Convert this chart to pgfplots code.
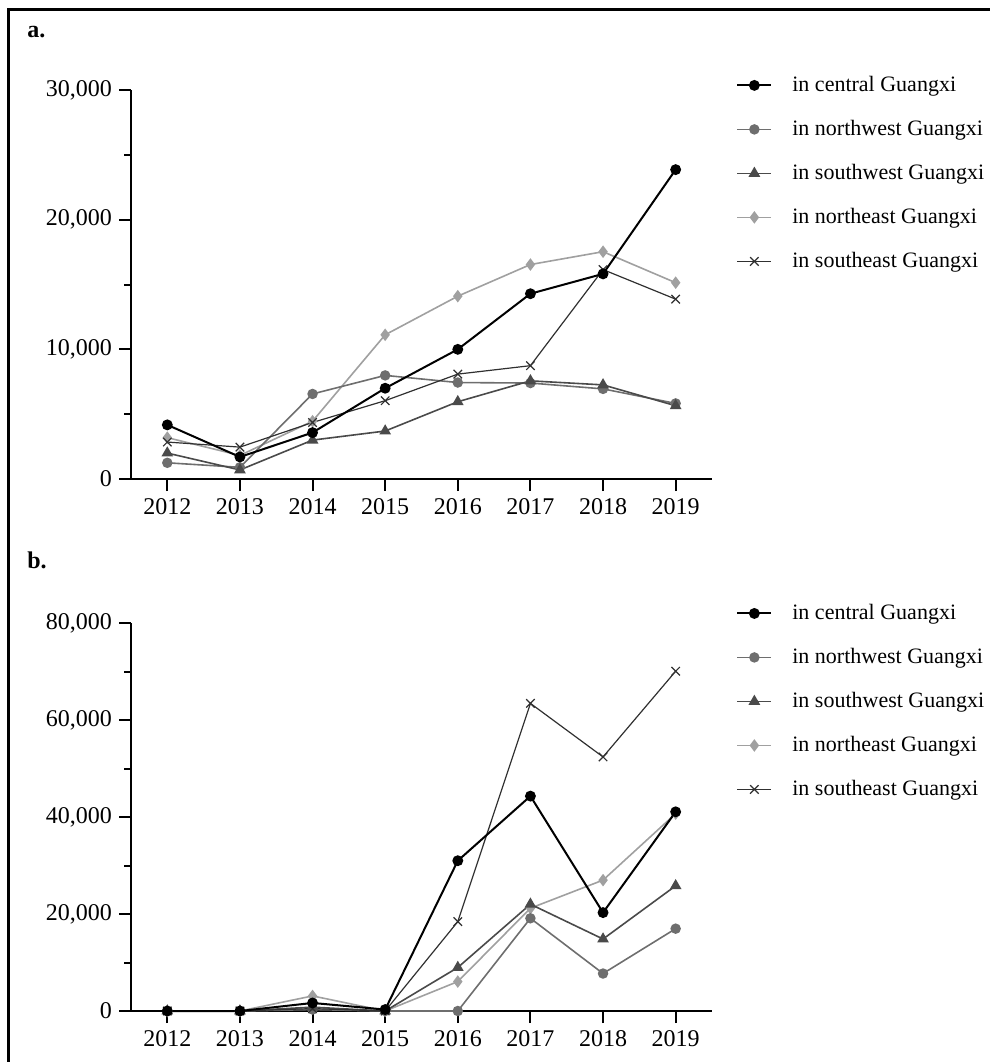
\documentclass[border=0pt]{standalone}
\usepackage{fontspec}
\setmainfont{Liberation Serif}
\usepackage{pgfplots}
\pgfplotsset{compat=1.18}
\definecolor{cNW}{HTML}{6E6E6E}
\definecolor{cSW}{HTML}{4A4A4A}
\definecolor{cNE}{HTML}{A0A0A0}
\definecolor{cSE}{HTML}{303030}
\pgfplotsset{
 gx/.style={
  scale only axis, width=290.5pt,
  xmin=2011.5, xmax=2019.5, ymin=0,
  axis x line*=bottom, axis y line*=left,
  xtick={2012,2013,2014,2015,2016,2017,2018,2019},
  x tick label style={/pgf/number format/1000 sep={}},
  y tick label style={/pgf/number format/.cd, 1000 sep={,}, fixed},
  scaled y ticks=false,
  /pgf/number format/assume math mode=true,
  tick align=outside, major tick length=6pt, minor tick length=3.5pt,
  every tick/.style={line width=1pt, black},
  minor y tick num=1,
  axis line style={line width=1pt},
  tick label style={font=\fontsize{12}{14}\selectfont},
  clip=false,
  legend style={draw=none, fill=none, anchor=north west, inner sep=0pt,
    row sep=12pt, font=\fontsize{11}{13}\selectfont,
    nodes={inner sep=0pt, text height=8pt, text depth=2pt},
    /tikz/every odd column/.append style={column sep=10pt}},
  legend cell align=left,
  legend image code/.code={\draw[mark repeat=2,mark phase=2,##1] plot coordinates {(0pt,0pt) (8.5pt,0pt) (17pt,0pt)};},
 },
 sC/.style={black, line width=1pt, mark=*, mark size=2.2pt, mark options={solid, fill=black}},
 sNW/.style={cNW, line width=0.8pt, mark=*, mark size=2.2pt, mark options={solid, fill=cNW}},
 sSW/.style={cSW, line width=0.8pt, mark=triangle*, mark size=2.6pt, mark options={solid, fill=cSW}},
 sNE/.style={cNE, line width=0.8pt, mark=diamond*, mark size=2.5pt, mark options={solid, fill=cNE}},
 sSE/.style={cSE, line width=0.6pt, mark=x, mark size=3pt, mark options={solid}},
}
\begin{document}
\begin{tikzpicture}
\useasboundingbox (0pt,0pt) rectangle (495pt,-531pt);
\draw[line width=1.4pt] (4.2pt,-535pt) -- (4.2pt,-4.65pt) -- (500pt,-4.65pt);
\node[font=\bfseries\fontsize{12}{14}\selectfont, anchor=base west, inner sep=0pt] at (13.5pt,-18.5pt) {a.};
\node[font=\bfseries\fontsize{12}{14}\selectfont, anchor=base west, inner sep=0pt] at (13.5pt,-284pt) {b.};
\begin{axis}[gx, at={(65.5pt,-239.5pt)}, anchor=south west, height=194.5pt,
  ymax=30000, ytick={0,10000,20000,30000},
  legend style={at={(1.0413,1.0386)}}]
\addlegendimage{sC}\addlegendentry{in central Guangxi}
\addlegendimage{sNW}\addlegendentry{in northwest Guangxi}
\addlegendimage{sSW}\addlegendentry{in southwest Guangxi}
\addlegendimage{sNE}\addlegendentry{in northeast Guangxi}
\addlegendimage{sSE}\addlegendentry{in southeast Guangxi}
\addplot[sNE, forget plot] coordinates {(2012,3190) (2013,1820) (2014,4460) (2015,11120) (2016,14100) (2017,16540) (2018,17530) (2019,15140)};
\addplot[sNW, forget plot] coordinates {(2012,1250) (2013,900) (2014,6560) (2015,7990) (2016,7440) (2017,7400) (2018,6950) (2019,5830)};
\addplot[sSW, forget plot] coordinates {(2012,2000) (2013,700) (2014,3000) (2015,3700) (2016,5960) (2017,7570) (2018,7260) (2019,5650)};
\addplot[sSE, forget plot] coordinates {(2012,2850) (2013,2460) (2014,4360) (2015,6040) (2016,8090) (2017,8740) (2018,16150) (2019,13870)};
\addplot[sC, forget plot] coordinates {(2012,4175) (2013,1700) (2014,3580) (2015,7000) (2016,10000) (2017,14290) (2018,15820) (2019,23860)};
\end{axis}
\begin{axis}[gx, at={(65.5pt,-505.5pt)}, anchor=south west, height=194pt,
  ymax=80000, ytick={0,20000,40000,60000,80000},
  legend style={at={(1.0413,1.0515)}}]
\addlegendimage{sC}\addlegendentry{in central Guangxi}
\addlegendimage{sNW}\addlegendentry{in northwest Guangxi}
\addlegendimage{sSW}\addlegendentry{in southwest Guangxi}
\addlegendimage{sNE}\addlegendentry{in northeast Guangxi}
\addlegendimage{sSE}\addlegendentry{in southeast Guangxi}
\addplot[sNE, forget plot] coordinates {(2012,0) (2013,0) (2014,3110) (2015,0) (2016,6070) (2017,21200) (2018,26990) (2019,40700)};
\addplot[sNW, forget plot] coordinates {(2012,0) (2013,0) (2014,300) (2015,0) (2016,0) (2017,19120) (2018,7730) (2019,16980)};
\addplot[sSW, forget plot] coordinates {(2012,0) (2013,0) (2014,800) (2015,0) (2016,8970) (2017,22020) (2018,14840) (2019,25820)};
\addplot[sSE, forget plot] coordinates {(2012,0) (2013,0) (2014,500) (2015,0) (2016,18430) (2017,63430) (2018,52390) (2019,70060)};
\addplot[sC, forget plot] coordinates {(2012,0) (2013,0) (2014,1660) (2015,300) (2016,30990) (2017,44310) (2018,20290) (2019,41070)};
\end{axis}
\end{tikzpicture}
\end{document}
